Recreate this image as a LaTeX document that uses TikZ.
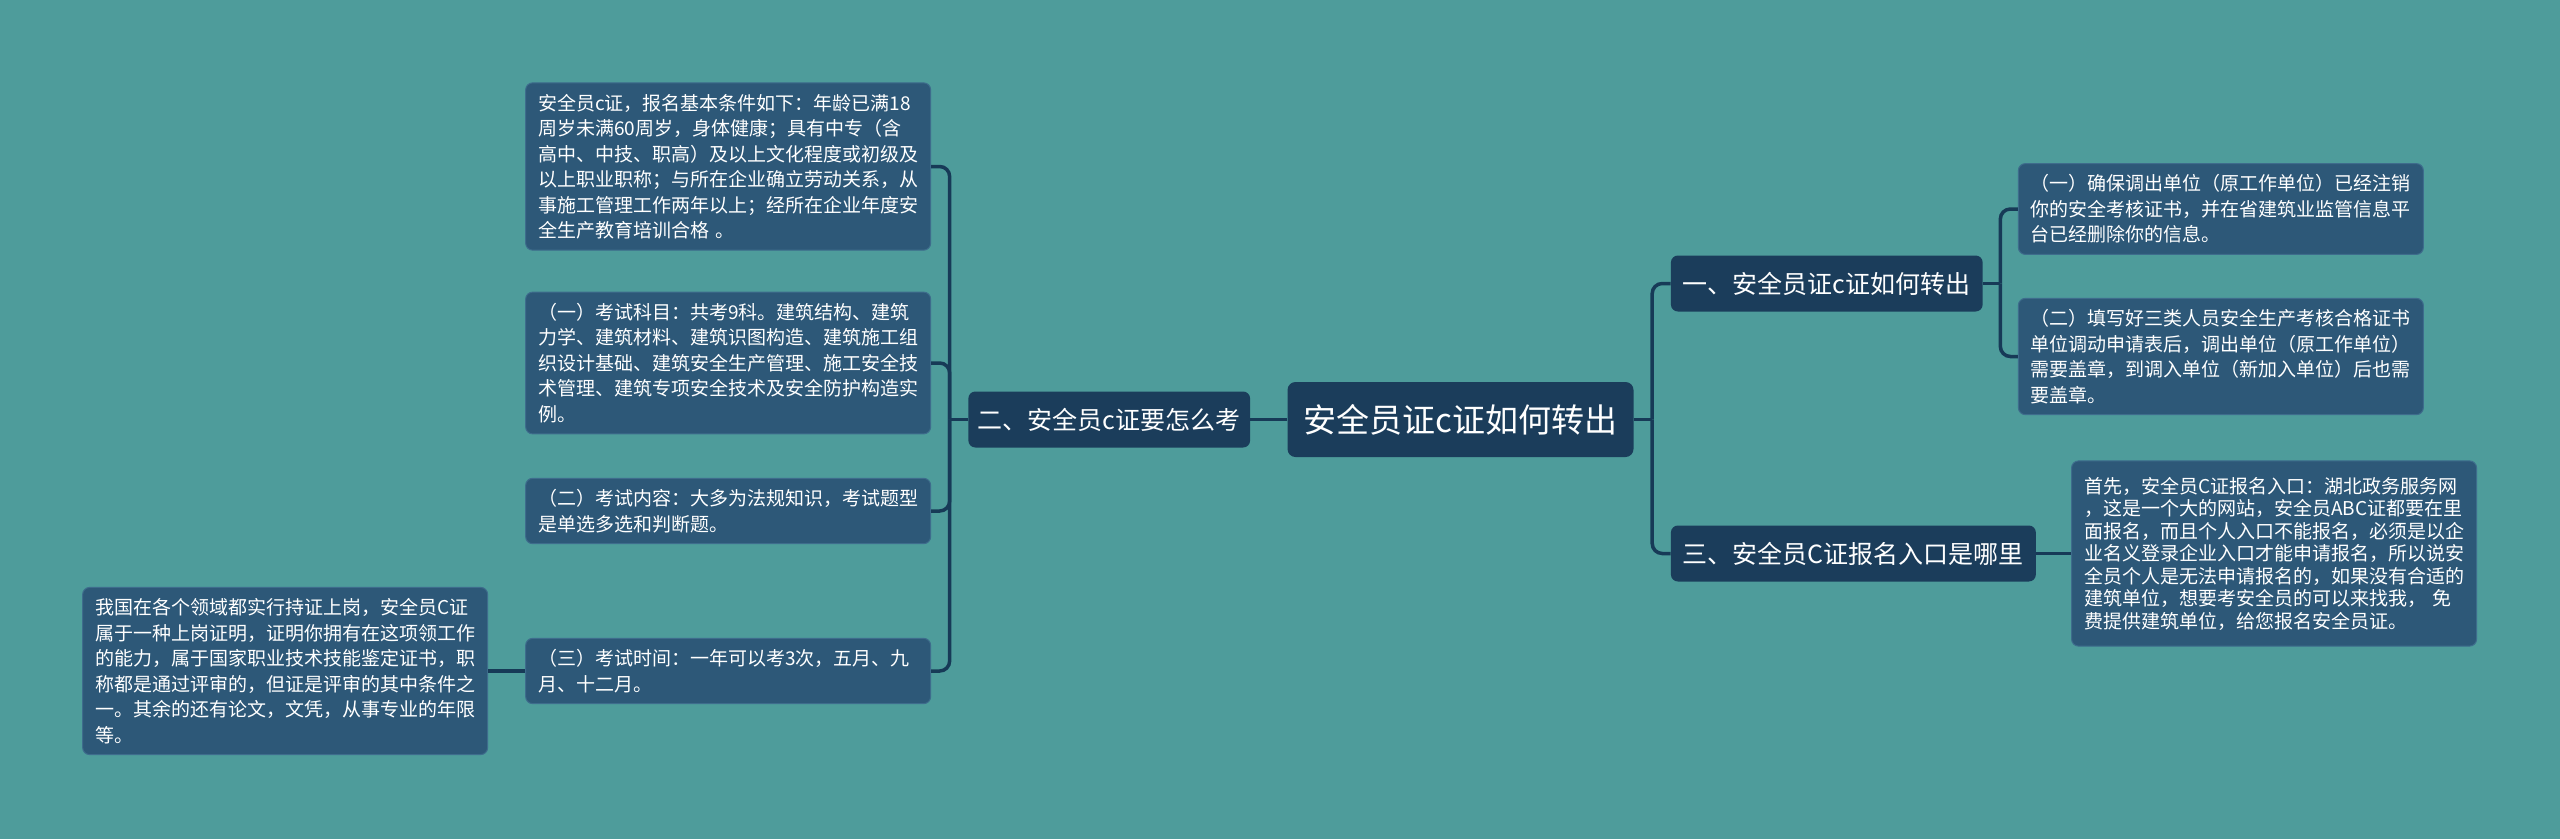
\documentclass[tikz,border=0pt]{standalone}
\usepackage{fontspec}
\setmainfont{Noto Sans CJK SC}
\usetikzlibrary{positioning}
\definecolor{bgteal}{HTML}{4E9C9B}
\definecolor{topicblue}{HTML}{1B3D5B}
\definecolor{leafblue}{HTML}{2D5878}
\definecolor{leafedge}{HTML}{3E6C8C}
\definecolor{linkblue}{HTML}{173A57}
\tikzstyle{topic} = [rectangle, rounded corners=8pt, fill=topicblue, text=white, font=\fontsize{33}{40}\selectfont, minimum width=346pt, minimum height=75pt]
\tikzstyle{branch} = [rectangle, rounded corners=7pt, fill=topicblue, text=white, font=\fontsize{25}{30}\selectfont, inner xsep=12pt, minimum height=56pt]
\tikzstyle{leaf} = [rectangle, rounded corners=7pt, fill=leafblue, draw=leafedge, line width=1pt, text=white, font=\fontsize{19}{25.5}\selectfont, text width=380pt, align=left, inner xsep=12.5pt, inner ysep=11pt]
\tikzstyle{link} = [draw=linkblue, line width=3.5pt, rounded corners=10pt]

\begin{document}
\begin{tikzpicture}[x=1pt, y=1pt]
            \fill[bgteal] (0,0) rectangle (2560,-839);
            \useasboundingbox (0,0) rectangle (2560,-839);
            \node[topic] (main) at (1460.5,-419.5) {安全员证c证如何转出};
            \node[branch, inner xsep=9.5pt] (howtoexam) [left=37pt of main] {二、安全员c证要怎么考};
            \node[branch] (transfer) [right=37pt of main, yshift=136pt] {一、安全员证c证如何转出};
            \node[branch] (signup) [right=37pt of main, yshift=-134pt] {三、安全员C证报名入口是哪里};
            \node[leaf] (conditions) [left=37pt of howtoexam, yshift=253pt] {安全员c证，报名基本条件如下：年龄已满18\\周岁未满60周岁，身体健康；具有中专（含\\高中、中技、职高）及以上文化程度或初级及\\以上职业职称；与所在企业确立劳动关系，从\\事施工管理工作两年以上；经所在企业年度安\\全生产教育培训合格 。};
            \node[leaf] (subjects) [left=37pt of howtoexam, yshift=56.5pt] {（一）考试科目：共考9科。建筑结构、建筑\\力学、建筑材料、建筑识图构造、建筑施工组\\织设计基础、建筑安全生产管理、施工安全技\\术管理、建筑专项安全技术及安全防护构造实\\例。};
            \node[leaf] (content) [left=37pt of howtoexam, yshift=-91.5pt] {（二）考试内容：大多为法规知识，考试题型\\是单选多选和判断题。};
            \node[leaf] (examtime) [left=37pt of howtoexam, yshift=-251.5pt] {（三）考试时间：一年可以考3次，五月、九\\月、十二月。};
            \node[leaf] (qualification) [left=37pt of examtime] {我国在各个领域都实行持证上岗，安全员C证\\属于一种上岗证明，证明你拥有在这项领工作\\的能力，属于国家职业技术技能鉴定证书，职\\称都是通过评审的，但证是评审的其中条件之\\一。其余的还有论文，文凭，从事专业的年限\\等。};
            \node[leaf] (cancel) [right=35pt of transfer, yshift=74.5pt] {（一）确保调出单位（原工作单位）已经注销\\你的安全考核证书，并在省建筑业监管信息平\\台已经删除你的信息。};
            \node[leaf] (fillform) [right=35pt of transfer, yshift=-73pt] {（二）填写好三类人员安全生产考核合格证书\\单位调动申请表后，调出单位（原工作单位）\\需要盖章，到调入单位（新加入单位）后也需\\要盖章。};
            \node[leaf, font=\fontsize{19}{22.5}\selectfont, inner ysep=16pt] (entrance) [right=35pt of signup] {首先，安全员C证报名入口：湖北政务服务网\\，这是一个大的网站，安全员ABC证都要在里\\面报名，而且个人入口不能报名，必须是以企\\业名义登录企业入口才能申请报名，所以说安\\全员个人是无法申请报名的，如果没有合适的\\建筑单位，想要考安全员的可以来找我， 免\\费提供建筑单位，给您报名安全员证。};
            \coordinate [left=18.5pt of howtoexam] (howtoexamjoin);
            \coordinate [right=18.5pt of main] (mainjoin);
            \coordinate [right=17.5pt of transfer] (transferjoin);
            \draw[link] (main.west) -- (howtoexam.east);
            \draw[link] (howtoexam.west) -- (howtoexamjoin);
            \draw[link] (howtoexamjoin) |- (conditions.east);
            \draw[link] (howtoexamjoin) |- (subjects.east);
            \draw[link] (howtoexamjoin) |- (content.east);
            \draw[link] (howtoexamjoin) |- (examtime.east);
            \draw[link] (examtime.west) -- (qualification.east);
            \draw[link] (main.east) -- (mainjoin);
            \draw[link] (mainjoin) |- (transfer.west);
            \draw[link] (mainjoin) |- (signup.west);
            \draw[link] (transfer.east) -- (transferjoin);
            \draw[link] (transferjoin) |- (cancel.west);
            \draw[link] (transferjoin) |- (fillform.west);
            \draw[link] (signup.east) -- (entrance.west);
          \end{tikzpicture}
\end{document}
